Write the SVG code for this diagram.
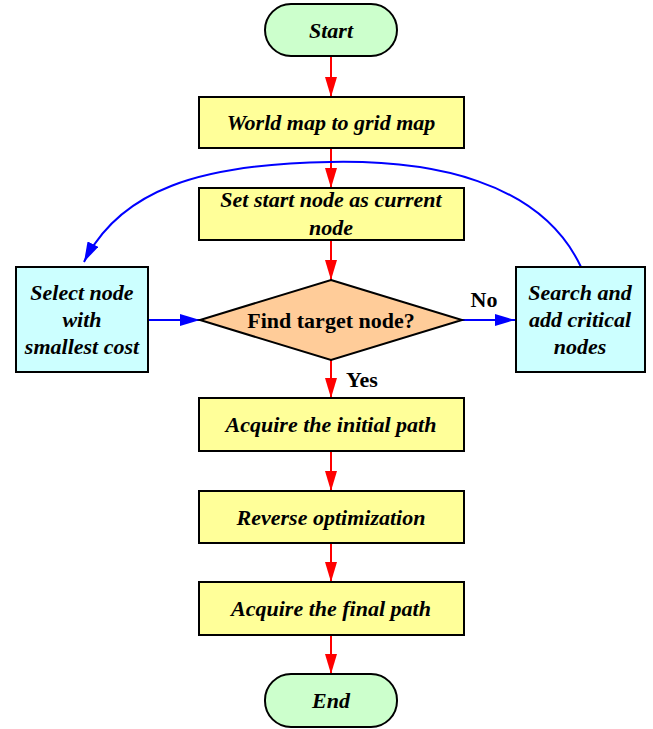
<svg xmlns="http://www.w3.org/2000/svg" width="653" height="729" viewBox="0 0 653 729">
<style>
.t{font-family:"Liberation Serif","Times New Roman",serif;font-size:22px;font-weight:bold;font-style:italic;fill:#000;text-anchor:middle}
.n{font-family:"Liberation Serif","Times New Roman",serif;font-size:22px;font-weight:bold;fill:#000;text-anchor:middle}
.term{fill:#ccffcc;stroke:#000;stroke-width:2}
.proc{fill:#ffff99;stroke:#000;stroke-width:2}
.side{fill:#ccffff;stroke:#000;stroke-width:2}
.dec{fill:#ffcc99;stroke:#000;stroke-width:2}
.r{stroke:#ff0000;stroke-width:2;fill:none;marker-end:url(#ar)}
.b{stroke:#0000ff;stroke-width:2;fill:none;marker-end:url(#ab)}
</style>
<defs>
<marker id="ar" markerWidth="20" markerHeight="12" refX="20" refY="6" orient="auto" markerUnits="userSpaceOnUse" viewBox="0 0 20 12">
<path d="M0,0 L20,6 L0,12 Z" fill="#ff0000"/>
</marker>
<marker id="ab" markerWidth="20" markerHeight="12" refX="20" refY="6" orient="auto" markerUnits="userSpaceOnUse" viewBox="0 0 20 12">
<path d="M0,0 L20,6 L0,12 Z" fill="#0000ff"/>
</marker>
</defs>
<g id="connectors">
<line class="r" x1="331" y1="56" x2="331" y2="97"/>
<line class="r" x1="331" y1="148" x2="331" y2="188"/>
<line class="r" x1="331" y1="240" x2="331" y2="280"/>
<line class="r" x1="331" y1="360" x2="331" y2="398"/>
<line class="r" x1="331" y1="451" x2="331" y2="491"/>
<line class="r" x1="331" y1="543" x2="331" y2="582"/>
<line class="r" x1="331" y1="635" x2="331" y2="674"/>
<line class="b" x1="148" y1="320" x2="200" y2="320"/>
<line class="b" x1="462" y1="320" x2="515" y2="320"/>
<path class="b" d="M581,267 C540,180 430,160 330,162 C200,164 120,190 84,262"/>
<text class="n" x="484" y="307">No</text>
<text class="n" x="362" y="387">Yes</text>
</g>
<g id="start"><rect class="term" x="265" y="4" width="132" height="52" rx="26"/><text class="t" x="331" y="38">Start</text></g>
<g id="world"><rect class="proc" x="199" y="97" width="265" height="51"/><text class="t" x="331" y="130">World map to grid map</text></g>
<g id="setstart"><rect class="proc" x="199" y="188" width="265" height="52"/><text class="t" x="331" y="207">Set start node as current</text><text class="t" x="331" y="235">node</text></g>
<g id="decision"><polygon class="dec" points="331,280 462,320 331,360 200,320"/><text class="n" x="331" y="328">Find target node?</text></g>
<g id="select"><rect class="side" x="16" y="267" width="132" height="105"/><text class="t" x="82" y="300">Select node</text><text class="t" x="82" y="327">with</text><text class="t" x="82" y="354">smallest cost</text></g>
<g id="search"><rect class="side" x="516" y="267" width="129" height="105"/><text class="t" x="580" y="300">Search and</text><text class="t" x="580" y="327">add critical</text><text class="t" x="580" y="354">nodes</text></g>
<g id="initial"><rect class="proc" x="199" y="398" width="265" height="53"/><text class="t" x="331" y="432">Acquire the initial path</text></g>
<g id="reverse"><rect class="proc" x="199" y="491" width="265" height="52"/><text class="t" x="331" y="525">Reverse optimization</text></g>
<g id="final"><rect class="proc" x="199" y="582" width="265" height="53"/><text class="t" x="331" y="616">Acquire the final path</text></g>
<g id="end"><rect class="term" x="265" y="674" width="132" height="53" rx="26"/><text class="t" x="331" y="708">End</text></g>
</svg>
